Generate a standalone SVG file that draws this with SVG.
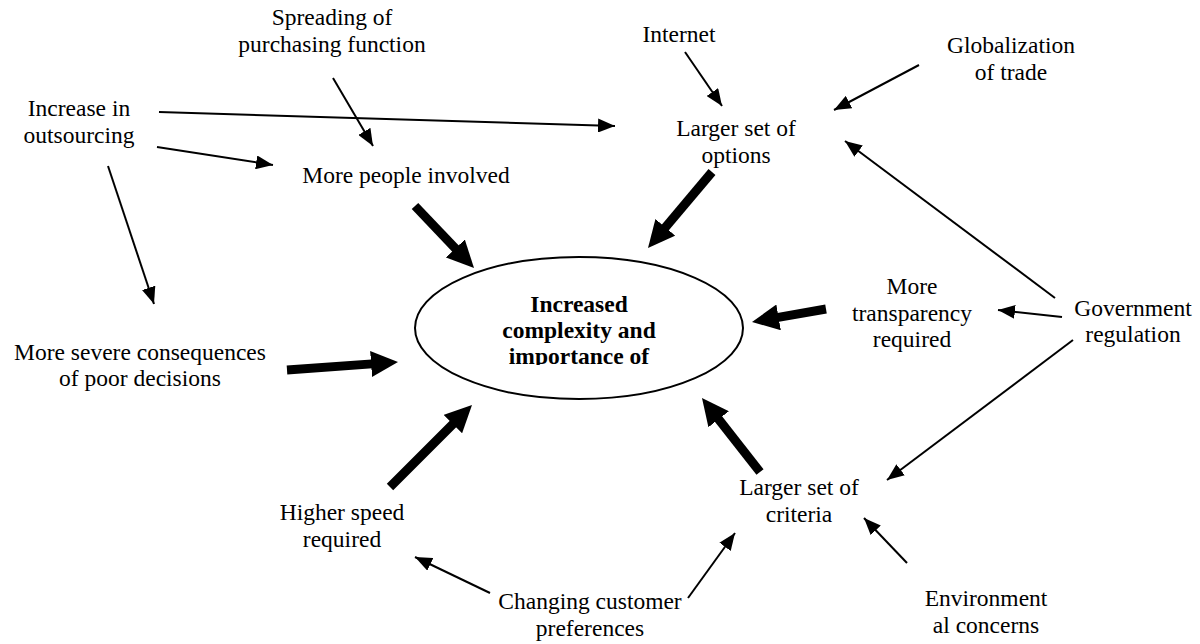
<svg xmlns="http://www.w3.org/2000/svg" width="1200" height="644" viewBox="0 0 1200 644">
<style>
text{font-family:"Liberation Serif","Times New Roman",serif;font-size:23.5px;fill:#000;text-anchor:middle}
.b{font-weight:bold}
.thin{stroke:#000;stroke-width:2;fill:none;marker-end:url(#ah)}
.thick{stroke:#000;stroke-width:9;fill:none;marker-end:url(#ahb);stroke-dasharray:86 30}
</style>
<defs>
<marker id="ah" markerUnits="userSpaceOnUse" markerWidth="17" markerHeight="14" refX="17" refY="7" orient="auto"><path d="M0,0 L17,7 L0,14 z" fill="#000"/></marker>
<marker id="ahb" markerUnits="userSpaceOnUse" markerWidth="27" markerHeight="26" refX="27" refY="13" orient="auto"><path d="M0,0 L27,13 L0,26 z" fill="#000"/></marker>
<clipPath id="ec"><rect x="400" y="250" width="360" height="115"/></clipPath>
</defs>
<g id="center">
<ellipse cx="579" cy="328" rx="164" ry="71" fill="#fff" stroke="#000" stroke-width="2"/>
<g clip-path="url(#ec)">
<text class="b" x="579" y="312">Increased</text>
<text class="b" x="579" y="338">complexity and</text>
<text class="b" x="579" y="364">importance of</text>
</g>
</g>
<g id="spreading"><text x="332" y="25">Spreading of</text><text x="332" y="52">purchasing function</text></g>
<g id="internet"><text x="679" y="42">Internet</text></g>
<g id="globalization"><text x="1011" y="53">Globalization</text><text x="1011" y="80">of trade</text></g>
<g id="outsourcing"><text x="79" y="116">Increase in</text><text x="79" y="143">outsourcing</text></g>
<g id="options"><text x="736" y="136">Larger set of</text><text x="736" y="163">options</text></g>
<g id="people"><text x="406" y="183">More people involved</text></g>
<g id="transparency"><text x="912" y="294">More</text><text x="912" y="321">transparency</text><text x="912" y="347">required</text></g>
<g id="government"><text x="1133" y="316">Government</text><text x="1133" y="342">regulation</text></g>
<g id="severe"><text x="140" y="360">More severe consequences</text><text x="140" y="386">of poor decisions</text></g>
<g id="speed"><text x="342" y="520">Higher speed</text><text x="342" y="547">required</text></g>
<g id="criteria"><text x="799" y="495">Larger set of</text><text x="799" y="522">criteria</text></g>
<g id="customer"><text x="590" y="609">Changing customer</text><text x="590" y="636">preferences</text></g>
<g id="environment"><text x="986" y="606">Environment</text><text x="986" y="633">al concerns</text></g>
<g id="connectors">
<path class="thin" d="M159,112 L615,126"/>
<path class="thin" d="M157,147 L273,165"/>
<path class="thin" d="M108,166 L154,304"/>
<path class="thin" d="M333,78 L373,146"/>
<path class="thin" d="M685,52 L722,106"/>
<path class="thin" d="M919,65 L834,110"/>
<path class="thin" d="M1055,298 L845,141"/>
<path class="thin" d="M1062,317 L998,310"/>
<path class="thin" d="M1073,340 L887,480"/>
<path class="thin" d="M907,563 L864,518"/>
<path class="thin" d="M688,598 L735,533"/>
<path class="thin" d="M490,593 L415,557"/>
<path class="thick" pathLength="100" d="M415,206 L474,268"/>
<path class="thick" pathLength="100" d="M712,172 L648,248"/>
<path class="thick" pathLength="100" d="M826,309 L752,322"/>
<path class="thick" pathLength="100" d="M287,370 L398,362"/>
<path class="thick" pathLength="100" d="M390,487 L472,405"/>
<path class="thick" pathLength="100" d="M760,472 L702,398"/>
</g>
</svg>
